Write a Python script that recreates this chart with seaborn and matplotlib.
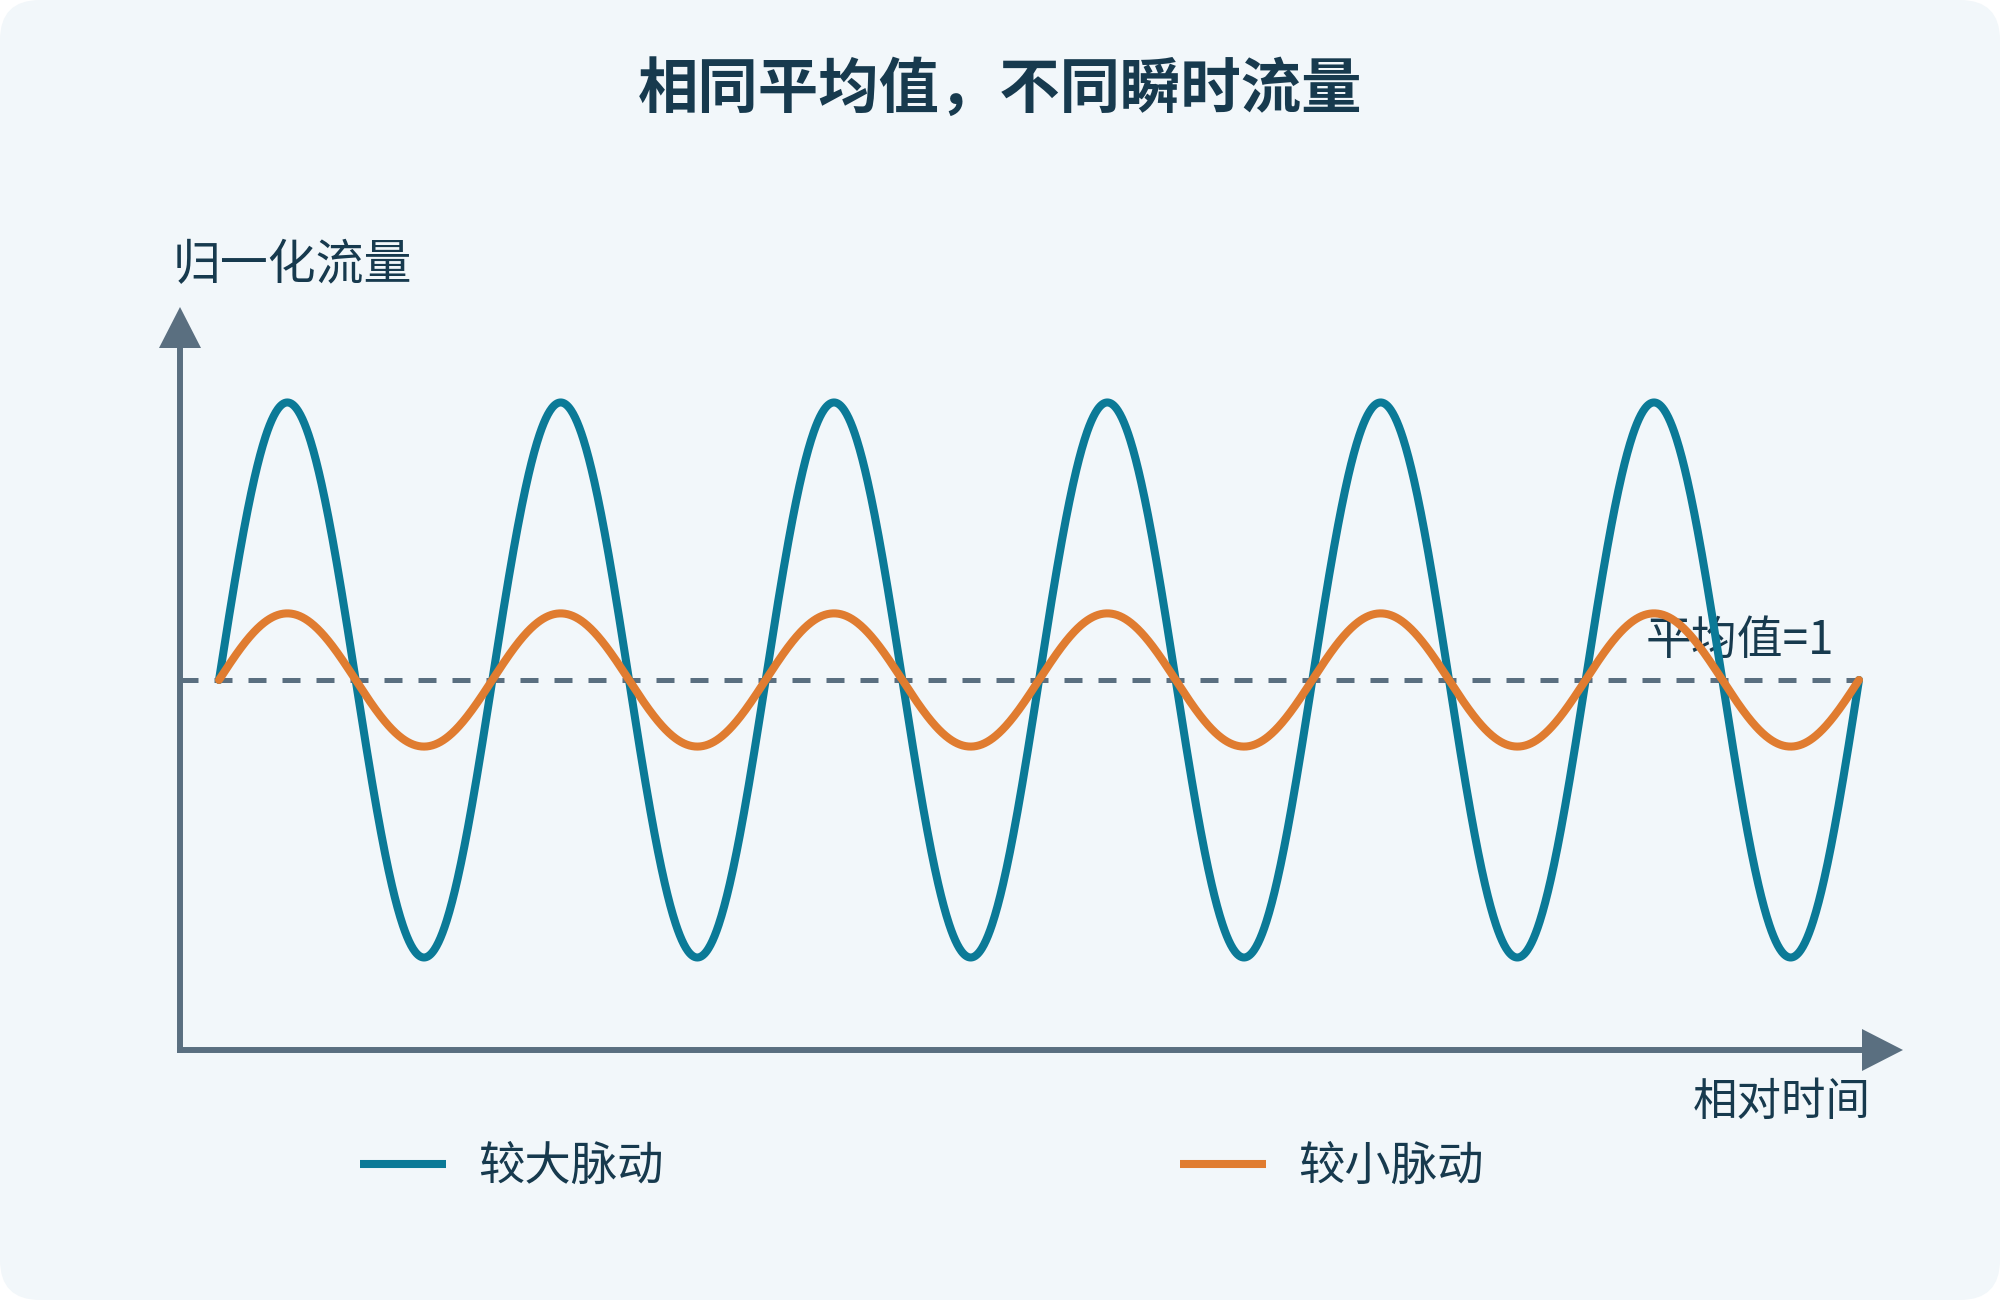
import numpy as np
import pandas as pd
import matplotlib
matplotlib.use("Agg")
import matplotlib.pyplot as plt
from matplotlib.patches import FancyBboxPatch, Polygon
import seaborn as sns

# ---------------- data ----------------
series_names = ["较大脉动", "较小脉动"]
series_amplitudes = [0.75, 0.18]      # deviation from the mean at peaks / troughs
mean_value = 1.0                      # 平均值
cycles = 6                            # number of full oscillations shown
title_text = "相同平均值，不同瞬时流量"
y_label = "归一化流量"
x_label = "相对时间"

# ---------------- style ----------------
COL_BLUE = "#0B7A97"
COL_ORANGE = "#E07C30"
COL_AXIS = "#5A6F80"
COL_TEXT = "#173A4E"
COL_BG = "#F2F7FA"

sns.set_theme(style="white")
plt.rcParams["font.family"] = ["Noto Sans CJK SC", "DejaVu Sans"]

# ---------------- build long table ----------------
t = np.linspace(0, cycles, 2400)
frames = []
for name, amp in zip(series_names, series_amplitudes):
    frames.append(pd.DataFrame({
        "time": t,
        "flow": mean_value + amp * np.sin(2 * np.pi * t),
        "series": name,
    }))
df = pd.concat(frames, ignore_index=True)

# ---------------- figure ----------------
fig = plt.figure(figsize=(20, 13), dpi=100)
fig.patch.set_facecolor("white")
card = FancyBboxPatch((0, 0), 20, 13, boxstyle="round,pad=0,rounding_size=0.4",
                      transform=fig.dpi_scale_trans, facecolor=COL_BG,
                      edgecolor="none", zorder=-10)
fig.add_artist(card)

ax = fig.add_axes([180 / 2000, 250 / 1300, 1723 / 2000, 743 / 1300])
ax.set_facecolor("none")

x_lo, x_hi = -0.1427, 6.161
y_lo, y_hi = 0.0, 2.008

# mean dashed line
ax.hlines(mean_value, x_lo, cycles, colors=COL_AXIS, linewidth=3.6,
          linestyles=(0, (3.6, 3.2)), zorder=1.5)

sns.lineplot(data=df, x="time", y="flow", hue="series",
             palette=[COL_BLUE, COL_ORANGE], hue_order=series_names,
             linewidth=5.8, ax=ax, zorder=2, sort=False, estimator=None)
# make orange on top
for ln, z in zip(ax.get_lines(), [2.0, 3.0]):
    ln.set_zorder(z)
    ln.set_solid_capstyle("round")

ax.text(5.22, mean_value + 0.106, f"平均值={mean_value:g}", fontsize=33,
        color=COL_TEXT, ha="left", va="center", zorder=1)

ax.set_xlim(x_lo, x_hi)
ax.set_ylim(y_lo, y_hi)
ax.set_xticks([])
ax.set_yticks([])
ax.set_xlabel("")
ax.set_ylabel("")

for s in ["top", "right"]:
    ax.spines[s].set_visible(False)
for s in ["left", "bottom"]:
    ax.spines[s].set_color(COL_AXIS)
    ax.spines[s].set_linewidth(4.3)
ax.spines["left"].set_bounds(0, 1.897)
ax.spines["bottom"].set_bounds(x_lo, 6.012)

# arrow heads (axes fraction)
hw_x = 21 / 1723
hl_y = 41 / 743
ax.add_patch(Polygon([[-hw_x, 1 - hl_y], [0, 1], [hw_x, 1 - hl_y]], closed=True,
                     transform=ax.transAxes, facecolor=COL_AXIS, edgecolor="none",
                     clip_on=False, zorder=4))
hl_x = 41 / 1723
hw_y = 21 / 743
ax.add_patch(Polygon([[1 - hl_x, -hw_y], [1, 0], [1 - hl_x, hw_y]], closed=True,
                     transform=ax.transAxes, facecolor=COL_AXIS, edgecolor="none",
                     clip_on=False, zorder=4))

# legend at the bottom
sns.move_legend(ax, loc="center left", bbox_to_anchor=(360 / 2000, 1 - 1167 / 1300),
                bbox_transform=fig.transFigure, ncol=2, frameon=False, title=None,
                fontsize=33.4, handlelength=1.86, handletextpad=0.68,
                columnspacing=11.135, borderpad=0, borderaxespad=0)
leg = ax.get_legend()
for txt in leg.get_texts():
    txt.set_color(COL_TEXT)
for ln in leg.get_lines():
    ln.set_linewidth(5.8)
    ln.set_solid_capstyle("butt")

# titles / axis labels
fig.text(0.5, 1 - 90 / 1300, title_text, fontsize=43.5, fontweight="bold",
         color=COL_TEXT, ha="center", va="center")
fig.text(173 / 2000, 1 - 265 / 1300, y_label, fontsize=34.5, color=COL_TEXT,
         ha="left", va="center")
fig.text(1871 / 2000, 1 - 1102 / 1300, x_label, fontsize=32, color=COL_TEXT,
         ha="right", va="center")

fig.savefig("out.png", dpi=100, facecolor=fig.get_facecolor())
